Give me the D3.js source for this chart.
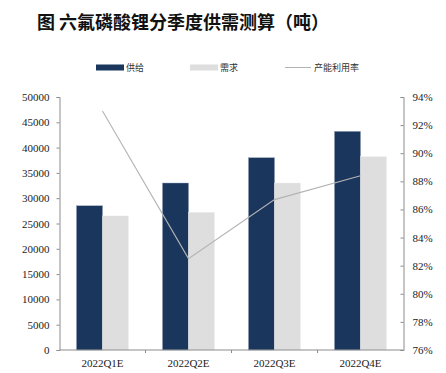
<!DOCTYPE html>
<html><head><meta charset="utf-8">
<script src="https://cdn.jsdelivr.net/npm/d3@7"></script>
<style>body{margin:0;background:#fff;}svg{display:block;}</style>
</head><body><svg id="c" width="446" height="373"></svg>
<script>
const categories = ["2022Q1E","2022Q2E","2022Q3E","2022Q4E"];
const supply = [28500, 33000, 38000, 43200];
const demand = [26500, 27200, 33000, 38200];
const utilization = [0.930, 0.825, 0.867, 0.884];
const leftTicks = [0,5000,10000,15000,20000,25000,30000,35000,40000,45000,50000];
const rightTicks = [0.76,0.78,0.80,0.82,0.84,0.86,0.88,0.90,0.92,0.94];

const svg = d3.select("#c");
const L = 59.5, R = 403.5, T = 97, B = 350;
const serif = "'Liberation Serif','Times New Roman',serif";
const cjk = "'Noto Sans CJK SC',sans-serif";

svg.append("text").attr("x", 37).attr("y", 29).attr("font-family", cjk)
  .attr("font-weight", "bold").attr("font-size", 18).attr("fill", "#111")
  .text("图 六氟磷酸锂分季度供需测算（吨）");

const x = d3.scaleBand().domain(categories).range([L, R]);
const y = d3.scaleLinear().domain([0, 50000]).range([B, T]);
const y2 = d3.scaleLinear().domain([0.76, 0.94]).range([B, T]);
const bw = 26;

const g = svg.append("g");
g.selectAll(".s").data(categories).enter().append("rect")
  .attr("x", d => x(d) + x.bandwidth()/2 - bw)
  .attr("y", (d,i) => y(supply[i])).attr("width", bw)
  .attr("height", (d,i) => B - y(supply[i]))
  .attr("fill", "#1b365d").attr("stroke", "#8a9ab0").attr("stroke-width", 0.4);
g.selectAll(".d").data(categories).enter().append("rect")
  .attr("x", d => x(d) + x.bandwidth()/2)
  .attr("y", (d,i) => y(demand[i])).attr("width", bw)
  .attr("height", (d,i) => B - y(demand[i]))
  .attr("fill", "#dedede").attr("stroke", "#eeeeee").attr("stroke-width", 0.4);

const line = d3.line().x((d,i) => x(categories[i]) + x.bandwidth()/2).y(d => y2(d));
svg.append("path").datum(utilization).attr("d", line)
  .attr("fill", "none").attr("stroke", "#b3b3b3").attr("stroke-width", 1.1);

// left axis
const la = svg.append("g").attr("transform", `translate(${L},0)`)
  .call(d3.axisLeft(y).tickValues(leftTicks).tickSize(3).tickPadding(7).tickFormat(d3.format("d")));
// right axis
const ra = svg.append("g").attr("transform", `translate(${R},0)`)
  .call(d3.axisRight(y2).tickValues(rightTicks).tickSize(-3).tickPadding(9).tickFormat(d3.format(".0%")));
// bottom axis
const ba = svg.append("g").attr("transform", `translate(0,${B})`)
  .call(d3.axisBottom(x).tickSize(0).tickPadding(9));
[la, ra, ba].forEach(a => {
  a.select(".domain").attr("stroke", "#8c8c8c");
  a.selectAll(".tick line").attr("stroke", "#8c8c8c");
  a.selectAll("text").attr("font-family", serif).attr("font-size", 11).attr("fill", "#222");
});
ba.select(".domain").attr("d", `M${L},0H${R}`);
// category separators
svg.append("g").selectAll("line").data(categories.slice(1)).enter().append("line")
  .attr("x1", d => x(d)).attr("x2", d => x(d)).attr("y1", B).attr("y2", B + 3)
  .attr("stroke", "#8c8c8c");

// legend
const lg = svg.append("g").attr("font-family", "'Noto Sans CJK SC',serif").attr("font-size", 9).attr("fill", "#333");
lg.append("rect").attr("x", 96).attr("y", 64.5).attr("width", 28).attr("height", 6).attr("fill", "#1b365d");
lg.append("text").attr("x", 126).attr("y", 71).text("供给");
lg.append("rect").attr("x", 190).attr("y", 64.5).attr("width", 28).attr("height", 6).attr("fill", "#dedede");
lg.append("text").attr("x", 220).attr("y", 71).text("需求");
lg.append("line").attr("x1", 285).attr("x2", 311).attr("y1", 67.5).attr("y2", 67.5).attr("stroke", "#b3b3b3").attr("stroke-width", 1);
lg.append("text").attr("x", 314).attr("y", 71).text("产能利用率");
</script></body></html>
